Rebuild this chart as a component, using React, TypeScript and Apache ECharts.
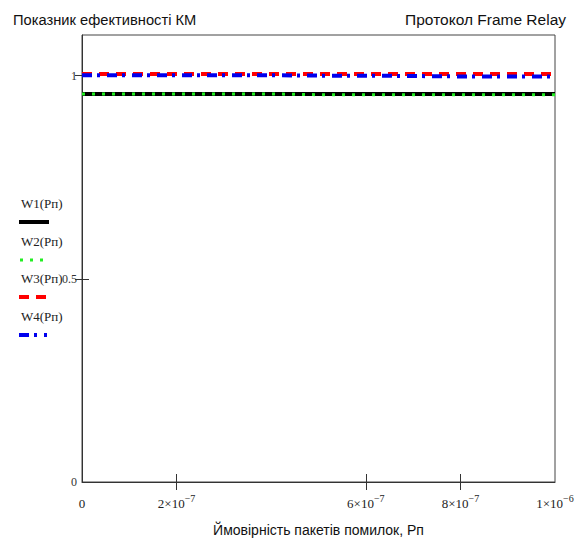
import React, { useEffect, useRef } from "react";
import * as echarts from "echarts";

const xValues = [0, 1e-7, 2e-7, 3e-7, 4e-7, 5e-7, 6e-7, 7e-7, 8e-7, 9e-7, 1e-6];
const w1 = [0.955, 0.955, 0.955, 0.955, 0.955, 0.955, 0.955, 0.955, 0.955, 0.955, 0.955];
const w2 = [0.955, 0.955, 0.955, 0.955, 0.955, 0.953, 0.953, 0.953, 0.953, 0.953, 0.953];
const w3 = [1.004, 1.004, 1.004, 1.004, 1.004, 1.004, 1.004, 1.004, 1.004, 1.004, 1.004];
const w4 = [1.001, 1.001, 1.001, 1.001, 1.001, 1.0, 1.0, 0.999, 0.998, 0.998, 0.998];
const xTickLabels = [0, 2e-7, 6e-7, 8e-7, 1e-6];
const xInnerTicks = [2e-7, 6e-7, 8e-7];
const yTickLabels = [0, 0.5, 1];
const yInnerTicks = [0.5, 1];
const legendNames = ["W1(Pп)", "W2(Pп)", "W3(Pп)", "W4(Pп)"];

const SERIF = "'Liberation Serif', 'Times New Roman', serif";
const SANS = "'Liberation Sans', Arial, sans-serif";

function fmtX(v: number): string {
  if (v === 0) return "{a|0}";
  const exp = Math.floor(Math.log10(v) + 1e-9);
  const mant = Math.round(v / Math.pow(10, exp));
  return `{a|${mant}×10}{b|−${Math.abs(exp)}}`;
}

export default function App() {
  const ref = useRef<HTMLDivElement>(null);
  useEffect(() => {
    if (!ref.current) return;
    const chart = echarts.init(ref.current, undefined, { renderer: "svg" });
    const pair = (arr: number[]) => xValues.map((x, i) => [x, arr[i]]);
    const legendY = [205, 243, 280, 318];
    const graphics: any[] = [
      {
        type: "text",
        left: 13,
        top: 12,
        style: { text: "Показник ефективності КМ", font: `14.7px ${SANS}`, fill: "#111" },
      },
      {
        type: "text",
        right: 17,
        top: 11,
        style: { text: "Протокол Frame Relay", font: `15.5px ${SANS}`, fill: "#111" },
      },
    ];
    legendNames.forEach((n, i) => {
      graphics.push({
        type: "text",
        left: 21,
        top: legendY[i] - 8,
        style: { text: n, font: `13px ${SERIF}`, fill: "#222" },
      });
    });
    const sy = legendY.map((y) => y + 17);
    graphics.push({
      type: "line",
      shape: { x1: 19, y1: sy[0], x2: 49, y2: sy[0] },
      style: { stroke: "#000", lineWidth: 4 },
    });
    graphics.push({
      type: "line",
      shape: { x1: 20, y1: sy[1], x2: 44, y2: sy[1] },
      style: { stroke: "#22ee22", lineWidth: 3, lineDash: [3, 7] },
    });
    graphics.push({
      type: "line",
      shape: { x1: 19, y1: sy[2], x2: 47, y2: sy[2] },
      style: { stroke: "#ff0000", lineWidth: 4, lineDash: [10, 7] },
    });
    graphics.push({
      type: "line",
      shape: { x1: 19, y1: sy[3], x2: 47, y2: sy[3] },
      style: { stroke: "#0000ee", lineWidth: 4, lineDash: [10, 5, 3, 7] },
    });

    const axisLineStyle = { color: "#333", width: 1 };
    chart.setOption({
      animation: false,
      backgroundColor: "#fff",
      grid: {
        left: 82,
        right: 28,
        top: 35,
        bottom: 59,
        show: true,
        borderColor: "#444",
        borderWidth: 1,
        containLabel: false,
      },
      graphic: graphics,
      xAxis: [
        {
          type: "value",
          min: 0,
          max: 1e-6,
          position: "bottom",
          axisLine: { show: true, lineStyle: axisLineStyle },
          splitLine: { show: false },
          axisTick: {
            show: true,
            inside: true,
            length: 8,
            customValues: xInnerTicks,
            lineStyle: axisLineStyle,
          },
          axisLabel: {
            customValues: xTickLabels,
            margin: 11,
            formatter: (v: number) => fmtX(v),
            rich: {
              a: { fontFamily: SERIF, fontSize: 13, color: "#222", lineHeight: 20 },
              b: { fontFamily: SERIF, fontSize: 10, color: "#222", lineHeight: 8, verticalAlign: "top" },
            },
          },
          name: "Ймовірність пакетів помилок, Рп",
          nameLocation: "middle",
          nameGap: 41,
          nameTextStyle: { fontFamily: SANS, fontSize: 14, color: "#111" },
        },
        {
          type: "value",
          min: 0,
          max: 1e-6,
          position: "top",
          axisLine: { show: false },
          splitLine: { show: false },
          axisLabel: { show: false },
          axisTick: {
            show: true,
            inside: true,
            length: 8,
            customValues: xInnerTicks,
            lineStyle: axisLineStyle,
          },
        },
      ],
      yAxis: [
        {
          type: "value",
          min: 0,
          max: 1.1,
          position: "left",
          axisLine: { show: true, lineStyle: axisLineStyle },
          splitLine: { show: false },
          axisTick: {
            show: true,
            inside: true,
            length: 7,
            customValues: yInnerTicks,
            lineStyle: axisLineStyle,
          },
          axisLabel: {
            customValues: yTickLabels,
            margin: 5,
            fontFamily: SERIF,
            fontSize: 12,
            color: "#333",
            formatter: (v: number) => String(v),
          },
        },
        {
          type: "value",
          min: 0,
          max: 1.1,
          position: "right",
          axisLine: { show: false },
          splitLine: { show: false },
          axisLabel: { show: false },
          axisTick: {
            show: true,
            inside: true,
            length: 7,
            customValues: yInnerTicks,
            lineStyle: axisLineStyle,
          },
        },
      ],
      series: [
        {
          name: legendNames[0],
          type: "line",
          data: pair(w1),
          symbol: "none",
          lineStyle: { color: "#000", width: 4 },
          z: 2,
        },
        {
          name: legendNames[1],
          type: "line",
          data: pair(w2),
          symbol: "none",
          lineStyle: { color: "#22ee22", width: 3, type: [3, 7] },
          z: 3,
        },
        {
          name: legendNames[2],
          type: "line",
          data: pair(w3),
          symbol: "none",
          lineStyle: { color: "#ff0000", width: 4, type: [10, 7] },
          z: 4,
        },
        {
          name: legendNames[3],
          type: "line",
          data: pair(w4),
          symbol: "none",
          lineStyle: { color: "#0000ee", width: 4, type: [10, 5, 3, 7] },
          z: 5,
        },
      ],
    });
    return () => chart.dispose();
  }, []);
  return (
    <div
      ref={ref}
      style={{ position: "fixed", left: 0, top: 0, width: 583, height: 542, background: "#fff" }}
    />
  );
}
